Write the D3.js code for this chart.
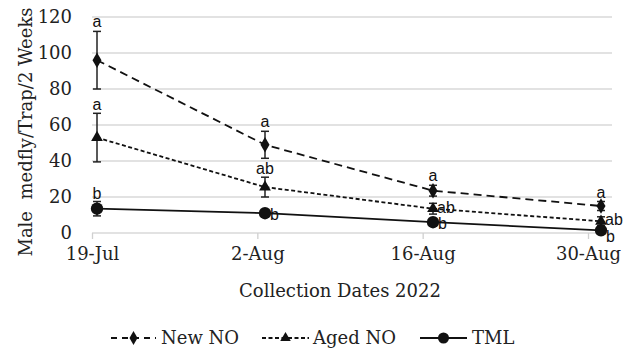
<!DOCTYPE html>
<html><head><meta charset="utf-8">
<script src="https://cdn.jsdelivr.net/npm/d3@7"></script>
<style>body{margin:0;background:#fff}</style>
</head><body>
<svg id="c" width="626" height="350"></svg>
<script>
const categories = ["19-Jul","2-Aug","16-Aug","30-Aug"];
const yTicks = [0,20,40,60,80,100,120];
const newNO = [96, 49, 23.5, 15];
const newNOerr = [16, 7.5, 3, 2.5];
const newNOletters = ["a","a","a","a"];
const agedNO = [53, 25.5, 13.5, 6.5];
const agedNOerr = [13.5, 5.5, 3, 2.5];
const agedNOletters = ["a","ab","ab","ab"];
const tml = [13.5, 11, 6, 1.5];
const tmlErr = [4, 1, 1, 1];
const tmlLetters = ["b","b","b","b"];
const seriesNames = ["New NO","Aged NO","TML"];

const SERIF = "DejaVu Serif";
const svg = d3.select("#c");
const x = d3.scalePoint().domain(categories).range([92, 588]);
const xm = d3.scalePoint().domain(categories).range([97, 601]);
const y = d3.scaleLinear().domain([0,120]).range([233, 17]);

svg.append("g").selectAll("line").data(yTicks).join("line")
  .attr("x1", 92).attr("x2", 612)
  .attr("y1", d=>y(d)).attr("y2", d=>y(d))
  .attr("stroke", "#d9d9d9").attr("stroke-width", 1.3);

svg.append("g").selectAll("text").data(yTicks).join("text")
  .attr("font-family",SERIF)
  .attr("x", 72).attr("y", d=>y(d)).attr("dy","0.35em")
  .attr("text-anchor","end")
  .attr("font-size", 18).attr("fill","#222")
  .text(d=>d);

const xAxis = d3.axisBottom(x).tickSize(6).tickPadding(6);
const gx = svg.append("g").attr("transform", `translate(0,${y(0)})`).call(xAxis);
gx.attr("font-family", SERIF).attr("font-size", 18);
gx.select(".domain").remove();
gx.selectAll(".tick line").attr("stroke","#d0d0d0").attr("stroke-width",1.3);
gx.selectAll(".tick text").attr("fill","#222").attr("dy","0.85em");

svg.append("text").attr("font-family",SERIF).attr("transform","translate(32,132) rotate(-90)")
  .attr("text-anchor","middle")
  .attr("font-size", 18).attr("fill","#222")
  .attr("xml:space","preserve")
  .text("Male  medfly/Trap/2 Weeks");
svg.append("text").attr("font-family",SERIF).attr("x", 340).attr("y", 297)
  .attr("text-anchor","middle")
  .attr("font-size", 18).attr("fill","#222")
  .text("Collection Dates 2022");

const series = [
  {name: seriesNames[0], vals: newNO, err: newNOerr, letters: newNOletters, dash: "8,5", marker: "diamond"},
  {name: seriesNames[1], vals: agedNO, err: agedNOerr, letters: agedNOletters, dash: "4,2.5", marker: "triangle"},
  {name: seriesNames[2], vals: tml, err: tmlErr, letters: tmlLetters, dash: null, marker: "circle"}
];

const line = d3.line().x((d,i)=>xm(categories[i])).y(d=>y(d));
const symbolType = {diamond: d3.symbolDiamond, triangle: d3.symbolTriangle, circle: d3.symbolCircle};
const symbolSize = {diamond: 70, triangle: 60, circle: 120};

series.forEach(s=>{
  svg.append("path").attr("d", line(s.vals)).attr("fill","none")
    .attr("stroke","#111").attr("stroke-width",1.8)
    .attr("stroke-dasharray", s.dash);
  const g = svg.append("g");
  s.vals.forEach((v,i)=>{
    const cx = xm(categories[i]);
    const e = s.err[i];
    g.append("line").attr("x1",cx).attr("x2",cx).attr("y1",y(v+e)).attr("y2",y(v-e)).attr("stroke","#222").attr("stroke-width",1.5);
    [v+e, v-e].forEach(t=>g.append("line").attr("x1",cx-4).attr("x2",cx+4).attr("y1",y(t)).attr("y2",y(t)).attr("stroke","#222").attr("stroke-width",1.5));
    g.append("path").attr("transform",`translate(${cx},${y(v)})`)
      .attr("d", d3.symbol().type(symbolType[s.marker]).size(symbolSize[s.marker])())
      .attr("fill","#111");
  });
});

const letters = [];
series.forEach((s,si)=>{
  s.vals.forEach((v,i)=>{
    const cx = xm(categories[i]);
    let lx = cx, ly, anchor = "middle";
    if (si===0) { ly = y(v + s.err[i]) - 4; }
    else if (si===1) {
      if (i<2) { ly = y(v + s.err[i]) - 3; }
      else { lx = cx + 4; ly = y(v) + 4; anchor = "start"; }
    } else {
      if (i===0) { ly = y(v + s.err[i]) - 3; }
      else if (i===3) { lx = cx + 5; ly = y(v) + 12; anchor = "start"; }
      else { lx = cx + 5; ly = y(v) + 7; anchor = "start"; }
    }
    letters.push({t: s.letters[i], x: lx, y: ly, a: anchor});
  });
});
svg.append("g").selectAll("text").data(letters).join("text")
  .attr("x",d=>d.x).attr("y",d=>d.y).attr("text-anchor",d=>d.a)
  .attr("font-family","Liberation Sans").attr("font-size",16).attr("fill","#111")
  .text(d=>d.t);

const legend = [
  {name: seriesNames[0], x0: 111, x1: 156, dash: "6,5", marker: "diamond", tx: 161},
  {name: seriesNames[1], x0: 262, x1: 309, dash: "4,2.5", marker: "triangle", tx: 313},
  {name: seriesNames[2], x0: 420, x1: 467, dash: null, marker: "circle", tx: 472}
];
const ly0 = 338;
legend.forEach(l=>{
  svg.append("line").attr("x1",l.x0).attr("x2",l.x1).attr("y1",ly0).attr("y2",ly0)
    .attr("stroke","#111").attr("stroke-width",1.8).attr("stroke-dasharray",l.dash);
  svg.append("path").attr("transform",`translate(${(l.x0+l.x1)/2},${ly0})`)
    .attr("d", d3.symbol().type(symbolType[l.marker]).size(symbolSize[l.marker]*0.8)())
    .attr("fill","#111");
  svg.append("text").attr("font-family",SERIF).attr("x", l.tx).attr("y", ly0).attr("dy","0.35em")
    .attr("font-size", 18).attr("fill","#222").text(l.name);
});
</script>
</body></html>
